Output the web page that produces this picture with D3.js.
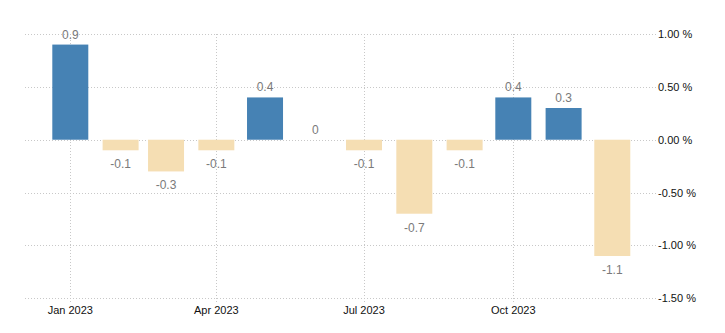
<!DOCTYPE html>
<html><head><meta charset="utf-8">
<script src="https://cdn.jsdelivr.net/npm/d3@7"></script>
<style>body{margin:0;background:#fff}svg{display:block}</style>
</head><body>
<svg id="c" width="725" height="333"></svg>
<script>
const months = ["2023-01","2023-02","2023-03","2023-04","2023-05","2023-06","2023-07","2023-08","2023-09","2023-10","2023-11","2023-12"];
const values = [0.9,-0.1,-0.3,-0.1,0.4,0,-0.1,-0.7,-0.1,0.4,0.3,-1.1];
const yTicks = [1.0,0.5,0,-0.5,-1.0,-1.5];
const xTickDates = ["2023-01","2023-04","2023-07","2023-10"];
const xTickLabels = ["Jan 2023","Apr 2023","Jul 2023","Oct 2023"];

const parse = d3.timeParse("%Y-%m");
const svg = d3.select("#c");
const left = 25, right = 657;
// calibrate time scale: Jan 1 -> 70.3, Oct 1 -> 513.3
const cal = d3.scaleTime().domain([parse("2023-01"), parse("2023-10")]).range([70.3, 513.3]);
const x = d3.scaleTime().domain([cal.invert(left), cal.invert(right)]).range([left, right]);
const y = d3.scaleLinear().domain([-1.5, 1.0]).range([298.3, 34]);

const grid = svg.append("g");
grid.selectAll("line.h").data(yTicks).join("line")
  .attr("x1", left).attr("x2", right)
  .attr("y1", d => Math.round(y(d)) + 0.5).attr("y2", d => Math.round(y(d)) + 0.5)
  .attr("stroke", "#c8c8c8").attr("stroke-dasharray", "1,2");
grid.selectAll("line.v").data(xTickDates).join("line")
  .attr("x1", d => Math.round(x(parse(d))) + 0.5).attr("x2", d => Math.round(x(parse(d))) + 0.5)
  .attr("y1", 34).attr("y2", y(-1.5) + 5)
  .attr("stroke", "#c8c8c8").attr("stroke-dasharray", "1,2");

const bw = 36;
svg.append("g").selectAll("rect").data(values).join("rect")
  .attr("x", (d, i) => x(parse(months[i])) - bw / 2)
  .attr("width", bw)
  .attr("y", d => y(Math.max(0, d)))
  .attr("height", d => Math.abs(y(d) - y(0)))
  .attr("fill", d => d > 0 ? "#4682b4" : "#f5deb3");

svg.append("g").selectAll("text").data(values).join("text")
  .attr("x", (d, i) => x(parse(months[i])))
  .attr("y", d => d < 0 ? y(d) + 18 : y(d) - 6)
  .attr("text-anchor", "middle")
  .attr("font-family", "Liberation Sans, Arial, sans-serif")
  .attr("font-size", 12).attr("fill", "#7a7a7a")
  .text(d => String(d));

svg.append("g").selectAll("text").data(yTicks).join("text")
  .attr("x", 658).attr("y", d => y(d) + 4)
  .attr("font-family", "Liberation Sans, Arial, sans-serif")
  .attr("font-size", 11).attr("fill", "#111")
  .text(d => d.toFixed(2) + " %");

svg.append("g").selectAll("text").data(xTickDates).join("text")
  .attr("x", d => x(parse(d))).attr("y", 314)
  .attr("text-anchor", "middle")
  .attr("font-family", "Liberation Sans, Arial, sans-serif")
  .attr("font-size", 11).attr("fill", "#111")
  .text((d, i) => xTickLabels[i]);
</script>
</body></html>
